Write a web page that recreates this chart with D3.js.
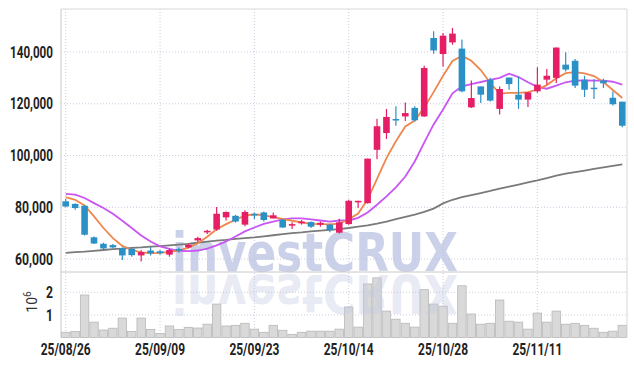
<!DOCTYPE html>
<html>
<head>
<meta charset="utf-8">
<script src="https://cdn.jsdelivr.net/npm/d3@7"></script>
<style>
  body { margin: 0; background: #fff; }
  svg { display: block; }
  .tick text { font-family: "Roboto", "Liberation Sans", sans-serif; font-weight: bold; font-size: 16px; fill: #222; }
</style>
</head>
<body>
<div id="container"></div>
<script>
/* DATA */
const dates = ["25/08/26","25/08/27","25/08/28","25/08/29","25/09/01","25/09/02","25/09/03","25/09/04","25/09/05","25/09/08",
  "25/09/09","25/09/10","25/09/11","25/09/12","25/09/15","25/09/16","25/09/17","25/09/18","25/09/19","25/09/22",
  "25/09/23","25/09/24","25/09/25","25/09/26","25/09/29","25/09/30","25/10/01","25/10/02","25/10/10","25/10/13",
  "25/10/14","25/10/15","25/10/16","25/10/17","25/10/20","25/10/21","25/10/22","25/10/23","25/10/24","25/10/27",
  "25/10/28","25/10/29","25/10/30","25/10/31","25/11/03","25/11/04","25/11/05","25/11/06","25/11/07","25/11/10",
  "25/11/11","25/11/12","25/11/13","25/11/14","25/11/17","25/11/18","25/11/19","25/11/20","25/11/21","25/11/24"];

const open  = [82300,81300,80600,68400,65900,65400,64300,64000,61400,63300,
  63000,61700,63900,64500,67200,70300,71400,76100,76700,73300,
  77400,78000,75700,75200,72900,73800,74300,73300,73300,70200,
  73500,81900,81600,102200,108700,114100,115100,118400,115100,145400,
  139200,143700,141300,118600,126700,129300,118000,130100,123500,121600,
  124800,129300,130000,135100,136600,129300,126200,129000,122300,120800];
const high  = [83200,81600,80700,68700,66300,65800,64500,64200,63500,64700,
  63500,64000,64500,66000,68600,71300,80100,78400,77100,78900,
  78000,78400,78000,75500,74200,75100,74500,74500,73600,75600,
  82900,82500,98800,114200,118000,119000,120500,119000,134700,148000,
  147300,149300,144800,129000,126700,130000,126700,130100,130500,124400,
  134100,133400,141700,139900,137300,130800,129600,129700,124700,120800];
const low   = [80100,79000,69100,65800,63700,64200,59600,60900,59100,61400,
  61700,60900,62400,64200,66600,69700,70900,74900,74100,72700,
  75500,74500,75700,72000,71600,73300,72000,72500,70400,69900,
  73300,79700,81400,98600,106400,111500,113300,113100,114900,139300,
  134400,142800,124400,118400,120300,120900,115800,125400,118000,118700,
  124200,127400,128000,132500,126100,122600,121800,126100,119300,110900];
const close = [80300,79700,69400,66000,64100,64500,61400,61500,62700,62200,
  62300,63500,63200,65500,68100,70900,77500,78200,74500,78200,
  76900,75100,76900,72200,73500,74500,72500,74000,71200,74200,
  82500,82500,98800,111300,114900,113600,116400,113600,133800,140600,
  146300,147100,124800,122200,123500,121200,125700,127600,121600,124400,
  127400,130800,141700,133200,127000,125400,125800,127900,119800,111500];

// volume in millions of shares
const volume = [0.23,0.27,1.88,0.68,0.33,0.41,0.86,0.27,0.86,0.36,
  0.18,0.51,0.36,0.45,0.42,0.59,1.48,0.51,0.54,0.63,
  0.37,0.23,0.54,0.32,0.14,0.23,0.28,0.28,0.28,0.37,
  1.35,0.46,2.37,2.64,1.17,0.81,0.63,0.46,2.12,1.48,
  1.39,0.63,2.29,1.04,0.59,0.63,1.66,0.72,0.68,0.37,
  1.08,0.68,1.17,0.59,0.63,0.54,0.41,0.23,0.28,0.54];

// moving averages (thousands)
const ma5 = [83.9,82.9,80.7,76.5,72.0,68.1,65.1,63.5,62.6,62.3,
  62.4,62.8,63.3,64.4,66.1,68.6,71.5,73.5,75.2,76.8,
  77.3,76.9,76.2,75.5,74.8,74.2,73.6,73.5,73.4,73.7,
  75.4,77.6,83.0,91.0,99.0,105.5,111.2,113.5,118.5,124.5,
  130.8,136.5,138.5,136.6,133.0,128.0,123.9,124.2,124.2,124.5,
  125.5,127.2,129.8,131.8,132.2,131.7,130.7,128.4,125.3,122.2];
const ma10 = [85.2,84.9,83.6,81.6,79.7,77.5,74.8,72.0,69.1,66.8,
  64.9,63.9,63.2,63.1,63.3,64.0,65.3,66.8,68.7,70.7,
  72.2,73.6,74.5,75.3,75.7,75.7,75.3,74.9,74.5,74.9,
  74.9,75.9,78.0,81.0,84.2,87.7,91.9,97.7,105.0,112.0,
  117.8,124.0,126.7,127.6,128.4,129.2,130.0,131.6,130.3,128.3,
  126.5,125.8,127.0,128.3,128.9,129.0,128.9,128.9,128.5,127.4];
const ma60 = [62.4,62.7,62.9,63.2,63.5,63.8,64.0,64.3,64.5,64.8,
  65.0,65.3,65.6,65.9,66.3,66.7,67.1,67.4,67.8,68.1,
  68.4,68.8,69.2,69.6,70.0,70.3,70.7,71.0,71.3,71.6,
  72.0,72.5,73.0,73.7,74.5,75.4,76.3,77.2,78.2,79.5,
  81.5,82.9,83.9,84.7,85.5,86.3,87.2,88.0,88.8,89.6,
  90.4,91.3,92.2,93.0,93.6,94.2,94.8,95.4,96.0,96.6];

const priceTicks = [60000, 80000, 100000, 120000, 140000];
const volTicks = [1, 2];
const dateTicks = dates.filter((d, i) => i % 10 === 0);

/* CONSTANTS */
const width = 634, height = 366;
const margin = {left: 61, right: 627, top: 9, priceBottom: 272, volBottom: 337.5};
const upColor = "#e61e66", downColor = "#2b90c6";
const gridColor = "#c9cde0";

/* SCALES */
const x = d3.scaleBand().domain(dates).range([margin.left, margin.right]).padding(0);
const cx = d => x(d) + x.bandwidth() / 2;
const y = d3.scaleLinear().domain([55000, 156600]).range([margin.priceBottom, margin.top]);
const yVol = d3.scaleLinear().domain([0, 2.9]).range([margin.volBottom, margin.priceBottom]);

const svg = d3.select("#container").append("svg")
  .attr("width", width).attr("height", height);

// gridlines
svg.append("g").selectAll("line").data(priceTicks).join("line")
  .attr("x1", margin.left).attr("x2", margin.right)
  .attr("y1", d => y(d)).attr("y2", d => y(d))
  .attr("stroke", gridColor).attr("stroke-dasharray", "1,2");
svg.append("g").selectAll("line").data(volTicks).join("line")
  .attr("x1", margin.left).attr("x2", margin.right)
  .attr("y1", d => yVol(d)).attr("y2", d => yVol(d))
  .attr("stroke", gridColor).attr("stroke-dasharray", "1,2");
svg.append("g").selectAll("line").data(dateTicks).join("line")
  .attr("x1", d => cx(d)).attr("x2", d => cx(d))
  .attr("y1", margin.top).attr("y2", margin.volBottom)
  .attr("stroke", gridColor).attr("stroke-dasharray", "1,2");

// volume bars
svg.append("g").selectAll("rect").data(dates).join("rect")
  .attr("x", d => x(d) + 0.5)
  .attr("width", x.bandwidth() - 1)
  .attr("y", (d, i) => yVol(volume[i]))
  .attr("height", (d, i) => margin.volBottom - yVol(volume[i]))
  .attr("fill", "#d9d9d9").attr("stroke", "#b8b8b8").attr("stroke-width", 0.8);

// watermark + reflection
const wm = svg.append("g").attr("font-family", "DejaVu Sans, Liberation Sans, sans-serif")
  .attr("font-weight", "bold").attr("font-size", 54);
wm.append("text").attr("x", 172).attr("y", 271)
  .attr("textLength", 286).attr("lengthAdjust", "spacingAndGlyphs")
  .attr("fill", "#b9c1e0").attr("fill-opacity", 0.75).text("investCRUX");
wm.append("text").attr("transform", "translate(0,546) scale(1,-1)")
  .attr("x", 172).attr("y", 271)
  .attr("textLength", 286).attr("lengthAdjust", "spacingAndGlyphs")
  .attr("fill", "#c2c8e2").attr("fill-opacity", 0.4).text("investCRUX");

// frame
svg.append("line").attr("x1", margin.left).attr("x2", margin.right).attr("y1", margin.top).attr("y2", margin.top).attr("stroke", "#d8d8d8");
svg.append("line").attr("x1", margin.right).attr("x2", margin.right).attr("y1", margin.top).attr("y2", margin.volBottom).attr("stroke", "#d8d8d8");
svg.append("line").attr("x1", margin.left).attr("x2", margin.right).attr("y1", margin.priceBottom).attr("y2", margin.priceBottom).attr("stroke", "#c8c8c8");
svg.append("line").attr("x1", margin.left).attr("x2", margin.left).attr("y1", margin.top).attr("y2", margin.volBottom).attr("stroke", "#c8c8c8");

// moving averages
const line = d3.line().x((d, i) => cx(dates[i])).y(d => y(d * 1000));
svg.append("path").datum(ma60).attr("d", line).attr("fill", "none").attr("stroke", "#7a7a7a").attr("stroke-width", 1.8);
svg.append("path").datum(ma10).attr("d", line).attr("fill", "none").attr("stroke", "#c955f2").attr("stroke-width", 1.8);
svg.append("path").datum(ma5).attr("d", line).attr("fill", "none").attr("stroke", "#ee874e").attr("stroke-width", 1.8);

// candles
const candles = svg.append("g").selectAll("g").data(dates).join("g");
const col = i => close[i] >= open[i] ? upColor : downColor;
candles.append("line")
  .attr("x1", d => cx(d)).attr("x2", d => cx(d))
  .attr("y1", (d, i) => y(high[i])).attr("y2", (d, i) => y(low[i]))
  .attr("stroke", (d, i) => col(i)).attr("stroke-width", 1.2);
candles.append("rect")
  .attr("x", d => cx(d) - 3.3)
  .attr("width", 6.6)
  .attr("y", (d, i) => y(Math.max(open[i], close[i])))
  .attr("height", (d, i) => Math.max(1.5, Math.abs(y(open[i]) - y(close[i]))))
  .attr("fill", (d, i) => col(i));

// axes (labels squeezed to mimic the condensed face)
const yAxis = d3.axisLeft(y).tickValues(priceTicks).tickFormat(d3.format(",")).tickSize(0).tickPadding(8);
svg.append("g").attr("transform", `translate(${margin.left},0)`).call(yAxis)
  .call(g => g.select(".domain").remove())
  .call(g => g.selectAll(".tick text")
    .attr("textLength", d => d >= 100000 ? 43 : 38).attr("lengthAdjust", "spacingAndGlyphs"));

const vAxis = d3.axisLeft(yVol).tickValues(volTicks).tickFormat(d3.format("d")).tickSize(0).tickPadding(8);
svg.append("g").attr("transform", `translate(${margin.left},0)`).call(vAxis)
  .call(g => g.select(".domain").remove())
  .call(g => g.selectAll(".tick text").attr("textLength", 7).attr("lengthAdjust", "spacingAndGlyphs"));

const xAxis = d3.axisBottom(x).tickValues(dateTicks).tickSize(0).tickPadding(6);
svg.append("g").attr("transform", `translate(0,${margin.volBottom})`).call(xAxis)
  .call(g => g.select(".domain").remove())
  .call(g => g.selectAll(".tick text").attr("textLength", 50).attr("lengthAdjust", "spacingAndGlyphs"));

// volume unit label
const unit = svg.append("text")
  .attr("transform", "translate(37,302) rotate(-90)")
  .attr("text-anchor", "middle")
  .attr("font-family", "Roboto, Liberation Sans, sans-serif")
  .attr("font-size", 14).attr("fill", "#333");
unit.append("tspan").text("10");
unit.append("tspan").attr("dy", -6).attr("font-size", 10).text("6");
</script>
</body>
</html>
